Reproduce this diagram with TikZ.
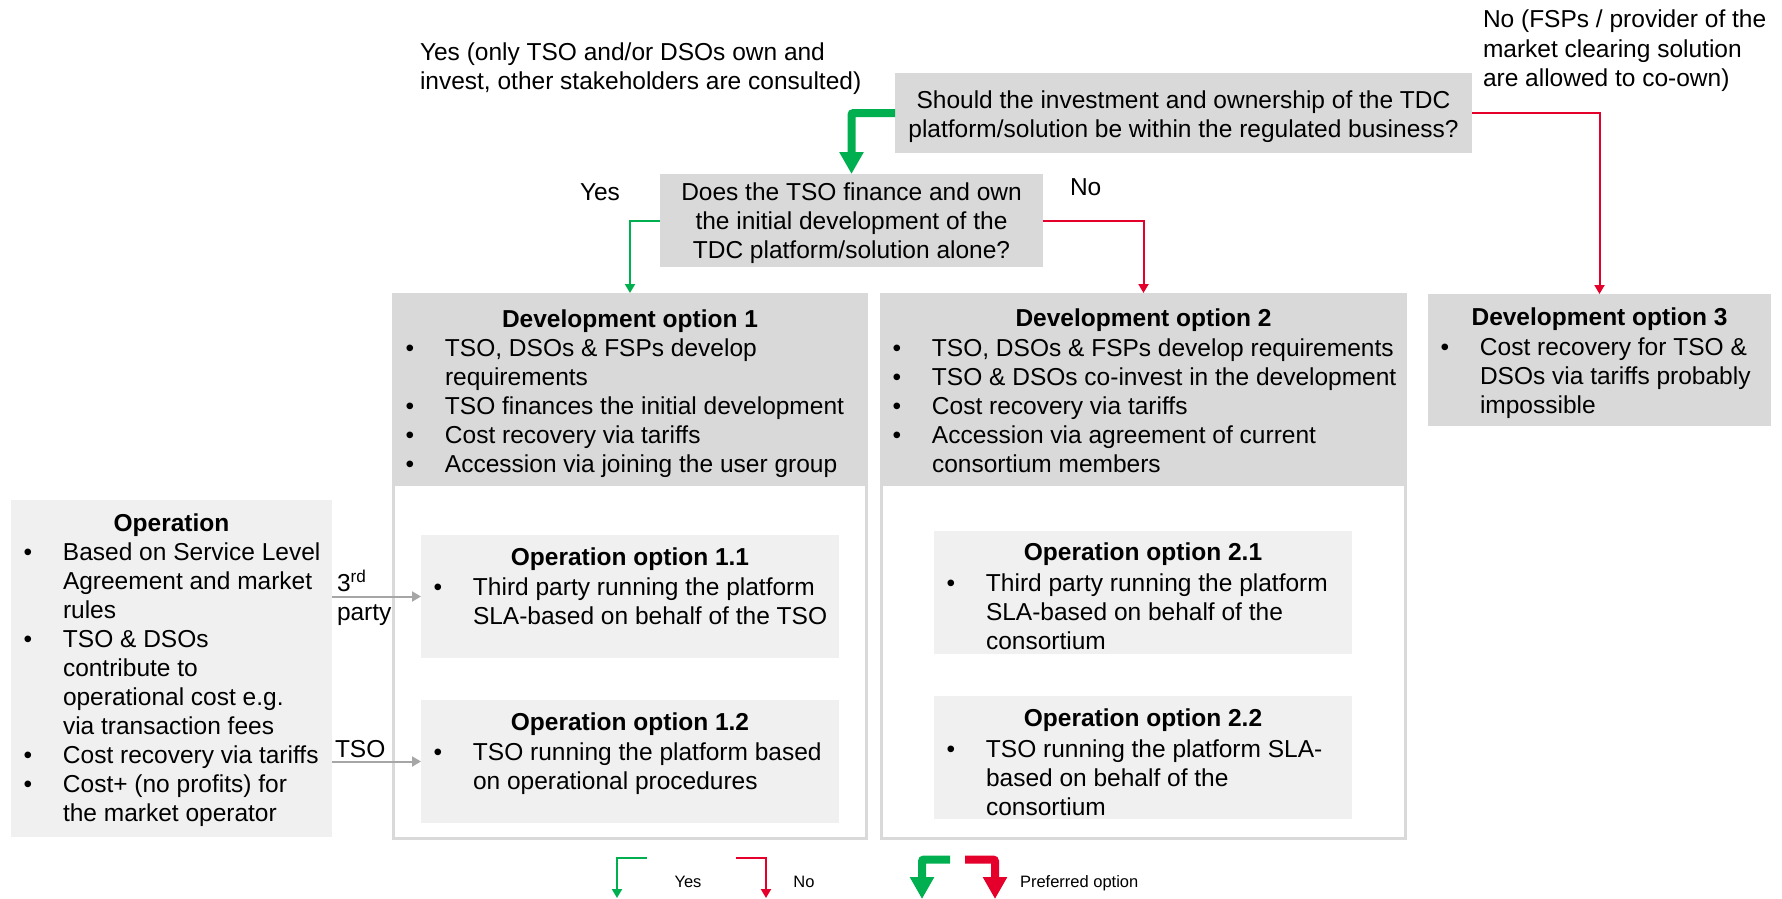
\documentclass[tikz,border=0pt]{standalone}
\usepackage{fontspec}
\setmainfont{Liberation Sans}
\usetikzlibrary{arrows.meta}
\definecolor{boxgray}{RGB}{217,217,217}
\definecolor{opgray}{RGB}{240,240,240}
\definecolor{ygreen}{RGB}{0,176,80}
\definecolor{nred}{RGB}{228,0,43}
\definecolor{agray}{RGB}{166,166,166}
\newcommand\mainsz{\fontsize{24.5pt}{29.1pt}\selectfont}
\newcommand\legsz{\fontsize{16.5pt}{19pt}\selectfont}
\newcommand\mybul{\makebox[39.3pt][l]{\textbullet}}
\newcommand\myind{\hspace*{39.3pt}}
\newcommand\fl{\rule{0pt}{20pt}}
\begin{document}
\begin{tikzpicture}[x=1pt,y=-1pt,
  box/.style={anchor=north west, inner sep=0pt, outer sep=0pt, draw=none},
  txt/.style={inner sep=0pt, outer sep=0pt, font=\mainsz},
  lst/.style={txt, anchor=north west, align=left},
  ctr/.style={txt, anchor=north, align=center},
  ttl/.style={txt, anchor=base, font=\mainsz\bfseries},
  yarrow/.style={line width=2pt, -{Triangle[width=10pt,length=9pt]}},
  parrow/.style={line width=8pt, rounded corners=2pt, -{Triangle[width=23pt,length=22pt]}},
  garrow/.style={line width=2pt, draw=agray, -{Triangle[width=10pt,length=9pt]}},
  frame/.style={anchor=north west, inner sep=0pt, outer sep=0pt, draw=boxgray, line width=3pt, fill=white},
]
\fill[white] (0,0) rectangle (1782,899);
\useasboundingbox (0,0) rectangle (1782,899);

% top labels
\node[lst] (yestop) at (420,40) {\fl Yes (only TSO and/or DSOs own and\\invest, other stakeholders are consulted)};
\node[lst] (notop) at (1483,8) {\fl No (FSPs / provider of the\\market clearing solution\\are allowed to co-own)};

% questions
\node[box, fill=boxgray, minimum width=577pt, minimum height=80pt] (Q1) at (895,73) {};
\node[ctr] (Q1t) at (1183.5,88) {\fl Should the investment and ownership of the TDC\\platform/solution be within the regulated business?};
\node[box, fill=boxgray, minimum width=383pt, minimum height=93pt] (Q2) at (660,174) {};
\node[ctr] (Q2t) at (851.5,180) {\fl Does the TSO finance and own\\the initial development of the\\TDC platform/solution alone?};
\node[txt, anchor=base west] (yesq2) at (580,200) {Yes};
\node[txt, anchor=base west] (noq2) at (1070,195) {No};

% development frames
\node[frame, minimum width=473pt, minimum height=544pt] (F1) at (393.5,294.5) {};
\node[frame, minimum width=524pt, minimum height=544pt] (F2) at (881.5,294.5) {};
\node[box, fill=boxgray, minimum width=476pt, minimum height=193pt] (Dev1) at (392,293) {};
\node[box, fill=boxgray, minimum width=527pt, minimum height=193pt] (Dev2) at (880,293) {};
\node[box, fill=boxgray, minimum width=343pt, minimum height=132pt] (Dev3) at (1428,294) {};

\node[ttl] (Dev1h) at (630,327) {Development option 1};
\node[lst] (Dev1l) at (405.7,336) {\fl\mybul TSO, DSOs \& FSPs develop\\\myind requirements\\\mybul TSO finances the initial development\\\mybul Cost recovery via tariffs\\\mybul Accession via joining the user group};

\node[ttl] (Dev2h) at (1143.5,326) {Development option 2};
\node[lst] (Dev2l) at (892.7,336) {\fl\mybul TSO, DSOs \& FSPs develop requirements\\\mybul TSO \& DSOs co-invest in the development\\\mybul Cost recovery via tariffs\\\mybul Accession via agreement of current\\\myind consortium members};

\node[ttl] (Dev3h) at (1599.5,325) {Development option 3};
\node[lst] (Dev3l) at (1440.7,335) {\fl\mybul Cost recovery for TSO \&\\\myind DSOs via tariffs probably\\\myind impossible};

% operation
\node[box, fill=opgray, minimum width=321pt, minimum height=337pt] (Oper) at (11,500) {};
\node[ttl] (Operh) at (171.5,531) {Operation};
\node[lst] (Operl) at (23.7,540) {\fl\mybul Based on Service Level\\\myind Agreement and market\\\myind rules\\\mybul TSO \& DSOs\\\myind contribute to\\\myind operational cost e.g.\\\myind via transaction fees\\\mybul Cost recovery via tariffs\\\mybul Cost+ (no profits) for\\\myind the market operator};

% operation options
\node[box, fill=opgray, minimum width=418pt, minimum height=123pt] (Op11) at (421,535) {};
\node[ttl] (Op11h) at (630,565) {Operation option 1.1};
\node[lst] (Op11l) at (433.7,575) {\fl\mybul Third party running the platform\\\myind SLA-based on behalf of the TSO};

\node[box, fill=opgray, minimum width=418pt, minimum height=123pt] (Op12) at (421,700) {};
\node[ttl] (Op12h) at (630,730) {Operation option 1.2};
\node[lst] (Op12l) at (433.7,740) {\fl\mybul TSO running the platform based\\\myind on operational procedures};

\node[box, fill=opgray, minimum width=418pt, minimum height=123pt] (Op21) at (934,531) {};
\node[ttl] (Op21h) at (1143,560) {Operation option 2.1};
\node[lst] (Op21l) at (946.7,571) {\fl\mybul Third party running the platform\\\myind SLA-based on behalf of the\\\myind consortium};

\node[box, fill=opgray, minimum width=418pt, minimum height=123pt] (Op22) at (934,696) {};
\node[ttl] (Op22h) at (1143,726) {Operation option 2.2};
\node[lst] (Op22l) at (946.7,737) {\fl\mybul TSO running the platform SLA-\\\myind based on behalf of the\\\myind consortium};

% connectors
\draw[parrow, draw=ygreen] (Q1.west) -| (Q2.north);
\draw[yarrow, draw=nred] (Q1.east) -| (Dev3.north);
\draw[yarrow, draw=ygreen] (Q2.west) -| (Dev1.north);
\draw[yarrow, draw=nred] (Q2.east) -| (Dev2.north);

\draw[garrow] (Op11.west -| Oper.east) -- (Op11.west);
\draw[garrow] (Op12.west -| Oper.east) -- (Op12.west);
\node[lst] (third) at (337,570) {\fl 3\textsuperscript{rd}\\party};
\node[txt, anchor=base west] (tso) at (335,757) {TSO};

% legend
\coordinate (lg1s) at (647,858); \coordinate (lg1e) at (617,898);
\coordinate (lg2s) at (736,858); \coordinate (lg2e) at (766,898);
\coordinate (lg3s) at (950,859.5); \coordinate (lg3e) at (922,899);
\coordinate (lg4s) at (965,859.5); \coordinate (lg4e) at (995,899);
\draw[yarrow, draw=ygreen] (lg1s) -| (lg1e);
\draw[yarrow, draw=nred] (lg2s) -| (lg2e);
\draw[parrow, draw=ygreen] (lg3s) -| (lg3e);
\draw[parrow, draw=nred] (lg4s) -| (lg4e);
\node[txt, font=\legsz, anchor=base] (lgyes) at (688,887) {Yes};
\node[txt, font=\legsz, anchor=base] (lgno) at (804,887) {No};
\node[txt, font=\legsz, anchor=base west] (lgpref) at (1020,887) {Preferred option};
\end{tikzpicture}
\end{document}
